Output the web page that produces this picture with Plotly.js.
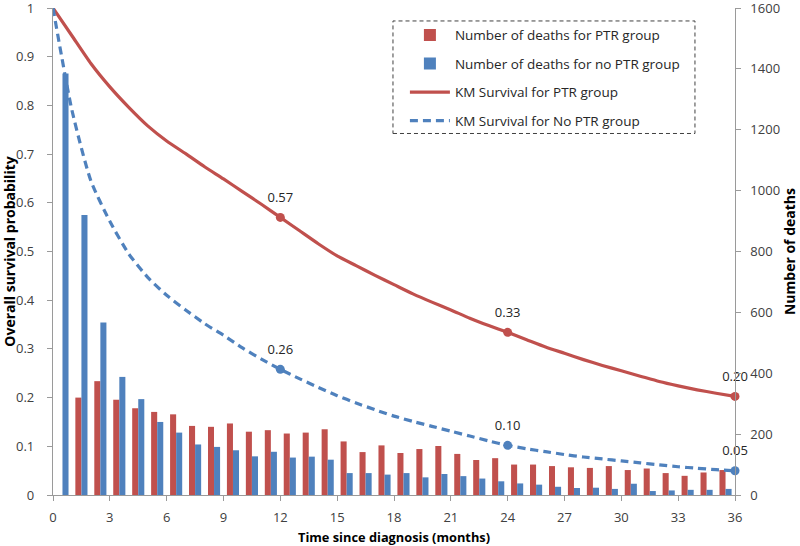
<!DOCTYPE html>
<html>
<head>
<meta charset="utf-8">
<script src="https://cdn.plot.ly/plotly-3.0.1.min.js"></script>
<style>html,body{margin:0;padding:0;background:#fff;}#chart{width:800px;height:546px;}</style>
</head>
<body>
<div id="chart"></div>
<script>
// Bar categories (month interval centres)
const barMonths = [0.5,1.5,2.5,3.5,4.5,5.5,6.5,7.5,8.5,9.5,10.5,11.5,12.5,13.5,14.5,15.5,16.5,17.5,18.5,19.5,20.5,21.5,22.5,23.5,24.5,25.5,26.5,27.5,28.5,29.5,30.5,31.5,32.5,33.5,34.5,35.5];
const deathsPTR = [0,320,374,313,285,273,265,227,224,235,208,213,202,205,216,176,141,163,138,151,161,135,115,121,100,100,95,91,89,95,82,87,72,63,74,82];
const deathsNoPTR = [1385,920,567,388,315,240,205,166,158,147,127,142,123,126,116,72,72,67,72,58,69,62,54,45,38,34,27,23,24,20,37,13,15,17,17,20];

// KM curves (monthly)
const kmMonths = [0,1,2,3,4,5,6,7,8,9,10,11,12,13,14,15,16,17,18,19,20,21,22,23,24,25,26,27,28,29,30,31,32,33,34,35,36];
const kmPTR = [1.0,0.943,0.886,0.838,0.796,0.758,0.727,0.701,0.674,0.649,0.623,0.597,0.570,0.543,0.516,0.491,0.471,0.451,0.432,0.413,0.396,0.380,0.363,0.348,0.334,0.319,0.304,0.291,0.278,0.266,0.255,0.244,0.233,0.224,0.216,0.209,0.2025];
const kmNoPTR = [1.0,0.79,0.645,0.562,0.495,0.447,0.41,0.38,0.352,0.328,0.302,0.279,0.258,0.239,0.221,0.204,0.189,0.175,0.162,0.151,0.141,0.131,0.121,0.111,0.102,0.095,0.089,0.083,0.078,0.074,0.070,0.066,0.062,0.058,0.055,0.052,0.0497];

// Labelled points
const labelMonths = [12,24,36];
const labelsPTR = ['0.57','0.33','0.20'];
const labelsNoPTR = ['0.26','0.10','0.05'];

// Left axis tick labels
const survTicks = [0,0.1,0.2,0.3,0.4,0.5,0.6,0.7,0.8,0.9,1];
const survTickText = ['0','0.1','0.2','0.3','0.4','0.5','0.6','0.7','0.8','0.9','1'];

const RED = '#C0504D', BLUE = '#4F81BD';
const FONT = 'Open Sans, Liberation Sans, sans-serif';
const NB = '\u00a0';

const pick = (arr) => labelMonths.map(m => arr[kmMonths.indexOf(m)]);

const traces = [
  {type:'bar', x:barMonths, y:deathsPTR, name:'Number of deaths for PTR group', marker:{color:RED}, yaxis:'y', legendgroup:'a'},
  {type:'bar', x:barMonths, y:deathsNoPTR, name:'Number of deaths for no PTR group', marker:{color:BLUE}, yaxis:'y', legendgroup:'b'},
  {type:'scatter', mode:'lines', x:kmMonths, y:kmPTR, name:'KM Survival for PTR group', yaxis:'y2', legendgroup:'c',
   line:{color:RED, width:3.2, shape:'spline', smoothing:0.6}, cliponaxis:false},
  {type:'scatter', mode:'lines', x:kmMonths, y:kmNoPTR, name:'KM Survival for No PTR group', yaxis:'y2', legendgroup:'d',
   line:{color:BLUE, width:3.2, shape:'spline', smoothing:0.6, dash:'8px,5px'}, cliponaxis:false},
  // point markers
  {type:'scatter', mode:'markers', x:labelMonths, y:pick(kmPTR), yaxis:'y2', showlegend:false, marker:{color:RED, size:9}, cliponaxis:false},
  {type:'scatter', mode:'markers', x:labelMonths, y:pick(kmNoPTR), yaxis:'y2', showlegend:false, marker:{color:BLUE, size:9}, cliponaxis:false},
  // point labels
  {type:'scatter', mode:'markers+text', x:labelMonths, y:pick(kmPTR), yaxis:'y2', showlegend:false,
   marker:{color:'rgba(0,0,0,0)', size:18}, text:labelsPTR, textposition:'top center',
   textfont:{family:FONT, size:13, color:'#262626'}, cliponaxis:false},
  {type:'scatter', mode:'markers+text', x:labelMonths, y:pick(kmNoPTR), yaxis:'y2', showlegend:false,
   marker:{color:'rgba(0,0,0,0)', size:18}, text:labelsNoPTR, textposition:'top center',
   textfont:{family:FONT, size:13, color:'#262626'}, cliponaxis:false}
];

const axisCommon = {showgrid:false, zeroline:false, showline:true, linecolor:'#9A9A9A', linewidth:1,
  ticks:'outside', ticklen:5, tickcolor:'#9A9A9A', ticklabeloverflow:'allow',
  tickfont:{family:FONT, size:13, color:'#404040'}};

const layout = {
  width:800, height:546,
  margin:{l:53, r:65, t:8, b:51},
  paper_bgcolor:'#fff', plot_bgcolor:'#fff',
  barmode:'group', bargap:0.36, bargroupgap:0,
  font:{family:FONT},
  xaxis:Object.assign({}, axisCommon, {range:[0,36], tickmode:'linear', tick0:0, dtick:3, ticklabelstandoff:5,
    title:{text:'<b>Time since diagnosis (months)</b>', font:{family:FONT, size:12.8, color:'#000'}, standoff:9}}),
  yaxis:Object.assign({}, axisCommon, {side:'right', range:[0,1600], tickmode:'linear', tick0:0, dtick:200,
    tickprefix:NB+NB,
    title:{text:'<b>Number of deaths</b>', font:{family:FONT, size:14, color:'#000'}, standoff:6}}),
  yaxis2:Object.assign({}, axisCommon, {overlaying:'y', side:'left', range:[0,1], tickmode:'array',
    tickvals:survTicks, ticktext:survTickText.map(t => t + NB + NB + NB),
    title:{text:'<b>Overall survival probability</b>', font:{family:FONT, size:14, color:'#000'}, standoff:2}}),
  showlegend:true,
  legend:{x:0.516, y:0.976, xanchor:'left', yanchor:'top', bgcolor:'rgba(0,0,0,0)', borderwidth:0,
    traceorder:'grouped', tracegroupgap:8, itemwidth:40, font:{family:FONT, size:13.5, color:'#262626'}},
  shapes:[{type:'rect', xref:'paper', yref:'paper', x0:0.4985, x1:0.9413, y0:0.7423, y1:0.9734,
    line:{color:'#404040', width:1, dash:'4px,3px'}, fillcolor:'rgba(0,0,0,0)'}]
};

Plotly.newPlot('chart', traces, layout, {displayModeBar:false, staticPlot:true});
</script>
</body>
</html>
